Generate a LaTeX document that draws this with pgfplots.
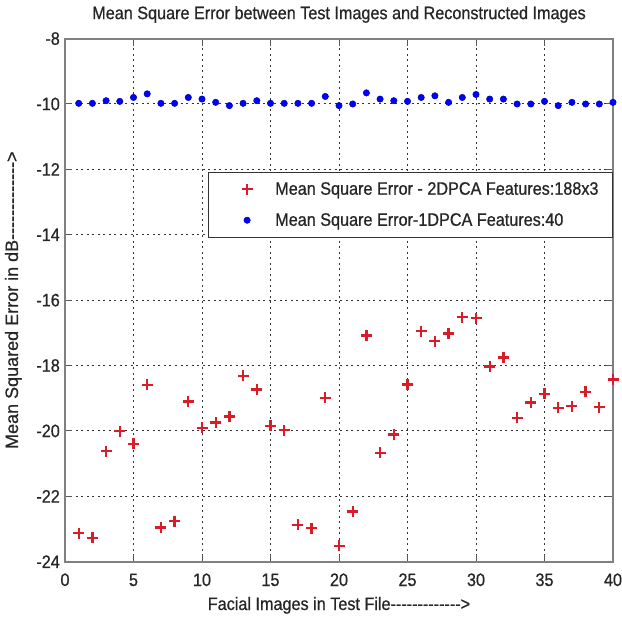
\documentclass[border=0pt]{standalone}
\usepackage{fontspec}
\setmainfont{Liberation Sans}[FakeStretch=0.9, RawFeature={embolden=0.7}]
\newfontfamily\plainsans{Liberation Sans}[RawFeature={embolden=0.7}]
\usepackage{pgfplots}
\pgfplotsset{compat=1.18}
\def\hy{-\kern0pt}
\def\arrowdashes{\hy\hy\hy\hy\hy\hy\hy\hy\hy\hy\hy\hy\hy>}
\pgfplotstableread{
x y
1 -23.13
2 -23.27
3 -20.62
4 -20.01
5 -20.39
6 -18.59
7 -22.95
8 -22.76
9 -19.10
10 -19.90
11 -19.74
12 -19.56
13 -18.31
14 -18.73
15 -19.84
16 -19.98
17 -22.87
18 -22.97
19 -18.99
20 -23.51
21 -22.46
22 -17.08
23 -20.67
24 -20.11
25 -18.58
26 -16.95
27 -17.25
28 -17.02
29 -16.52
30 -16.55
31 -18.03
32 -17.75
33 -19.60
34 -19.13
35 -18.87
36 -19.29
37 -19.24
38 -18.80
39 -19.27
40 -18.43
}\redtable
\pgfplotstableread{
x y
1 -9.98
2 -9.98
3 -9.90
4 -9.92
5 -9.80
6 -9.69
7 -9.98
8 -9.98
9 -9.80
10 -9.85
11 -9.95
12 -10.05
13 -9.98
14 -9.90
15 -9.98
16 -9.98
17 -9.98
18 -9.98
19 -9.77
20 -10.05
21 -10.00
22 -9.66
23 -9.85
24 -9.90
25 -9.92
26 -9.80
27 -9.75
28 -9.95
29 -9.80
30 -9.71
31 -9.85
32 -9.85
33 -10.00
34 -10.00
35 -9.92
36 -10.05
37 -9.95
38 -10.00
39 -10.00
40 -9.95
}\bluetable
\begin{document}
\begin{tikzpicture}[font=\fontsize{18bp}{21bp}\selectfont, text=black!85]
\useasboundingbox (-65bp,-55.3bp) rectangle (557bp,561.7bp);
\begin{axis}[
  at={(0,0)}, anchor=south west,
  width=548bp, height=523.1bp, scale only axis,
  xmin=0, xmax=40, ymin=-24, ymax=-8,
  xtick={0,5,...,40}, ytick={-24,-22,...,-8},
  xticklabels={0,5,10,15,20,25,30,35,40},
  yticklabels={-24,-22,-20,-18,-16,-14,-12,-10,-8},
  xticklabel style={anchor=base, yshift=-24.3bp},
  yticklabel style={anchor=east, inner xsep=0pt, xshift=-5bp},
  tick align=inside,
  major tick length=7bp,
  tick style={black!65, line width=1bp},
  axis line style={draw=black!50, line width=2bp},
  grid=major,
  major grid style={black!80, line width=1bp, dash pattern=on 2bp off 3.5bp},
  title={Mean Square Error between Test Images and Reconstructed Images},
  title style={at={(axis description cs:0.5,1)}, anchor=base, yshift=13.5bp},
  xlabel={Facial Images in Test File\arrowdashes},
  xlabel style={at={(axis description cs:0.5,0)}, anchor=base, yshift=-48.3bp},
  ylabel={\plainsans Mean Squared Error in dB\arrowdashes},
  ylabel style={at={(axis description cs:-0.0858,0.5)}, anchor=base, rotate=0},
  legend style={at={(1,0.7456)}, anchor=north east, draw=black!80, line width=1bp,
    fill=white, inner xsep=0bp, inner ysep=8bp, row sep=13bp,
    font=\fontsize{18bp}{21bp}\selectfont},
  legend cell align=left,
  myleg/.style={legend image code/.code={\path (0bp,0bp) (62bp,0bp); \draw[##1] plot coordinates {(37bp,0bp)};}},
]
\addplot[only marks, mark=+, mark size=5.5bp, draw={rgb,255:red,215;green,30;blue,40}, line width=2.3bp, myleg] table[x=x,y=y] {\redtable};
\addlegendentry{Mean Square Error - 2DPCA Features:188x3\rule{12bp}{0bp}}
\addplot[only marks, mark=*, mark size=3.2bp, draw=blue!70!black, fill=blue, line width=0.5bp, myleg] table[x=x,y=y] {\bluetable};
\addlegendentry{Mean Square Error-1DPCA Features:40}
\end{axis}
\end{tikzpicture}
\end{document}
